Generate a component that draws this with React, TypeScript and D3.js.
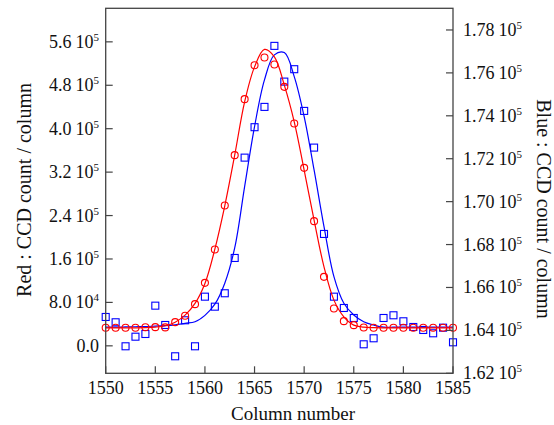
import React from "react";
import * as d3 from "d3";

const columns = [1550,1551,1552,1553,1554,1555,1556,1557,1558,1559,1560,1561,1562,1563,1564,1565,1566,1567,1568,1569,1570,1571,1572,1573,1574,1575,1576,1577,1578,1579,1580,1581,1582,1583,1584,1585];

const redCounts = [33200,33200,33200,33300,34300,34400,34000,43600,55300,76800,116000,177600,258600,351300,454400,517000,531200,518300,477100,409700,327900,229700,127100,68900,45500,38100,33900,33200,33200,33200,33200,33200,33200,33200,33200,33200];

const redFit = [33200,33200,33200,33200,33500,34500,37000,43500,56500,78100,114900,178100,257900,351300,449400,513900,546000,532300,480200,412600,323700,231600,145500,84200,53400,38100,34500,33500,33200,33200,33200,33200,33200,33200,33200,33200];

const blueCounts = [164625,164378,163259,163706,163832,165152,164252,162793,164471,163259,165571,165105,165730,167375,172051,173469,174415,177259,175594,176172,174228,172518,168494,165571,165044,164578,163352,163632,164578,164704,164424,164158,164019,163865,164126,163445];

const blueFit = [164150,164150,164160,164170,164180,164200,164220,164260,164330,164400,164700,165220,166200,167840,170699,173496,175673,176839,176946,175827,173963,171478,168834,166503,165263,164718,164400,164250,164150,164150,164150,164150,164150,164150,164150,164150];

const xTicks = [1550,1555,1560,1565,1570,1575,1580,1585];
const leftTicks = [0, 80000, 160000, 240000, 320000, 400000, 480000, 560000];
const leftTickMant = ["0.0", "8.0", "1.6", "2.4", "3.2", "4.0", "4.8", "5.6"];
const leftTickExp = ["", "4", "5", "5", "5", "5", "5", "5"];
const rightTicks = [162000,164000,166000,168000,170000,172000,174000,176000,178000];
const rightTickMant = ["1.62","1.64","1.66","1.68","1.70","1.72","1.74","1.76","1.78"];

const W = 554, H = 425;
const L = 105.7, R = 453, T = 8.3, B = 373.3;
const RED = "#ff0000";
const BLUE = "#0000ff";
const AXIS = "#444";
const FONT = "'Liberation Serif', 'Times New Roman', serif";

export default function App() {
  const x = d3.scaleLinear().domain([1550, 1585]).range([L, R]);
  const yL = d3.scaleLinear().domain([-50600, 621800]).range([B, T]);
  const yR = d3.scaleLinear().domain([162000, 179010]).range([B, T]);

  const redLine = d3.line<number>().x((_, i) => x(columns[i])).y(d => yL(d)).curve(d3.curveCatmullRom.alpha(0.5));
  const blueLine = d3.line<number>().x((_, i) => x(columns[i])).y(d => yR(d)).curve(d3.curveCatmullRom.alpha(0.5));
  const tickLen = 7;
  const sq = 7;

  return (
    <svg width={W} height={H} style={{ position: "absolute", left: 0, top: 0, background: "#fff" }} fontFamily={FONT}>
      <rect x={0} y={0} width={W} height={H} fill="#fff" />
      {/* blue */}
      <path d={blueLine(blueFit) || ""} fill="none" stroke={BLUE} strokeWidth={1.2} />
      {blueCounts.map((v, i) => (
        <rect key={"b" + i} x={x(columns[i]) - sq / 2} y={yR(v) - sq / 2} width={sq} height={sq} fill="none" stroke={BLUE} strokeWidth={1.1} />
      ))}
      {/* red */}
      <path d={redLine(redFit) || ""} fill="none" stroke={RED} strokeWidth={1.2} />
      {redCounts.map((v, i) => (
        <circle key={"r" + i} cx={x(columns[i])} cy={yL(v)} r={3.5} fill="none" stroke={RED} strokeWidth={1.1} />
      ))}
      {/* frame */}
      <rect x={L} y={T} width={R - L} height={B - T} fill="none" stroke={AXIS} strokeWidth={1.3} />
      {xTicks.map(t => (
        <g key={"x" + t}>
          <line x1={x(t)} x2={x(t)} y1={B} y2={B - tickLen} stroke={AXIS} strokeWidth={1.2} />
          <text x={x(t)} y={394} textAnchor="middle" fontSize={18} fill="#111">{t}</text>
        </g>
      ))}
      {leftTicks.map((t, i) => (
        <g key={"l" + t}>
          <line x1={L} x2={L + tickLen} y1={yL(t)} y2={yL(t)} stroke={AXIS} strokeWidth={1.2} />
          <text x={99} y={yL(t) + 6} textAnchor="end" fontSize={18} fill="#111">
            <tspan>{leftTickMant[i]}</tspan>
            {leftTickExp[i] ? <tspan dx={4}>10</tspan> : null}
            {leftTickExp[i] ? <tspan dy={-7} fontSize={11}>{leftTickExp[i]}</tspan> : null}
          </text>
        </g>
      ))}
      {rightTicks.map((t, i) => (
        <g key={"rt" + t}>
          <line x1={R} x2={R - tickLen} y1={yR(t)} y2={yR(t)} stroke={AXIS} strokeWidth={1.2} />
          <text x={463} y={yR(t) + 6} textAnchor="start" fontSize={18} fill="#111">
            <tspan>{rightTickMant[i]}</tspan>
            <tspan dx={4}>10</tspan>
            <tspan dy={-7} fontSize={11}>5</tspan>
          </text>
        </g>
      ))}
      <text transform={`translate(31,190) rotate(-90)`} textAnchor="middle" fontSize={20} fill="#111">Red : CCD count / column</text>
      <text transform={`translate(537,209) rotate(90)`} textAnchor="middle" fontSize={20} fill="#111">Blue : CCD count / column</text>
      <text x={293} y={420} textAnchor="middle" fontSize={19} fill="#111">Column number</text>
    </svg>
  );
}
